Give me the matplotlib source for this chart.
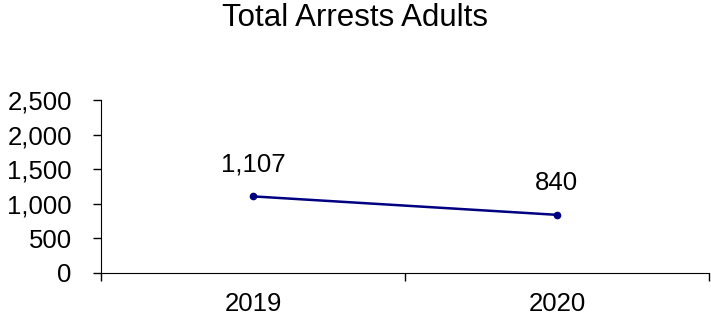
import matplotlib
matplotlib.use("Agg")
import matplotlib.pyplot as plt
from matplotlib.ticker import FuncFormatter, FixedLocator

plt.rcParams['font.family'] = ['Liberation Sans', 'DejaVu Sans']

years = ["2019", "2020"]
arrests = [1107, 840]

fig = plt.figure(figsize=(7.11, 3.2), dpi=100)
ax = fig.add_axes([0.142, 0.147, 0.855, 0.5405])

x = list(range(len(years)))
ax.plot(x, arrests, color="#000080", linewidth=1.8, marker="o", markersize=4.5)
for xi, v in zip(x, arrests):
    ax.annotate(f"{v:,}", (xi, v), xytext=(0, 14), textcoords="offset points",
                ha="center", va="bottom", fontsize=18.5)

ax.set_xlim(-0.5, len(years) - 0.5)
ax.set_ylim(0, 2500)
ax.set_yticks(range(0, 2501, 500))
ax.yaxis.set_major_formatter(FuncFormatter(lambda v, p: f"{int(v):,}"))

# category boundaries get tick marks, labels sit in the middle
ax.xaxis.set_major_locator(FixedLocator([i - 0.5 for i in range(len(years) + 1)]))
ax.xaxis.set_minor_locator(FixedLocator(x))
ax.set_xticklabels([""] * (len(years) + 1))
ax.set_xticklabels(years, minor=True)
ax.tick_params(axis="x", which="minor", length=0, labelsize=18.5, pad=14)
ax.tick_params(axis="x", which="major", length=6, width=1, direction="out")
ax.tick_params(axis="y", length=6, width=1, labelsize=18.5, pad=15)

for s in ["top", "right"]:
    ax.spines[s].set_visible(False)
ax.spines["left"].set_color("black")
ax.spines["bottom"].set_color("black")

fig.suptitle("Total Arrests Adults", fontsize=22.5, x=0.5, y=0.99)

fig.savefig("out.png", dpi=100)
